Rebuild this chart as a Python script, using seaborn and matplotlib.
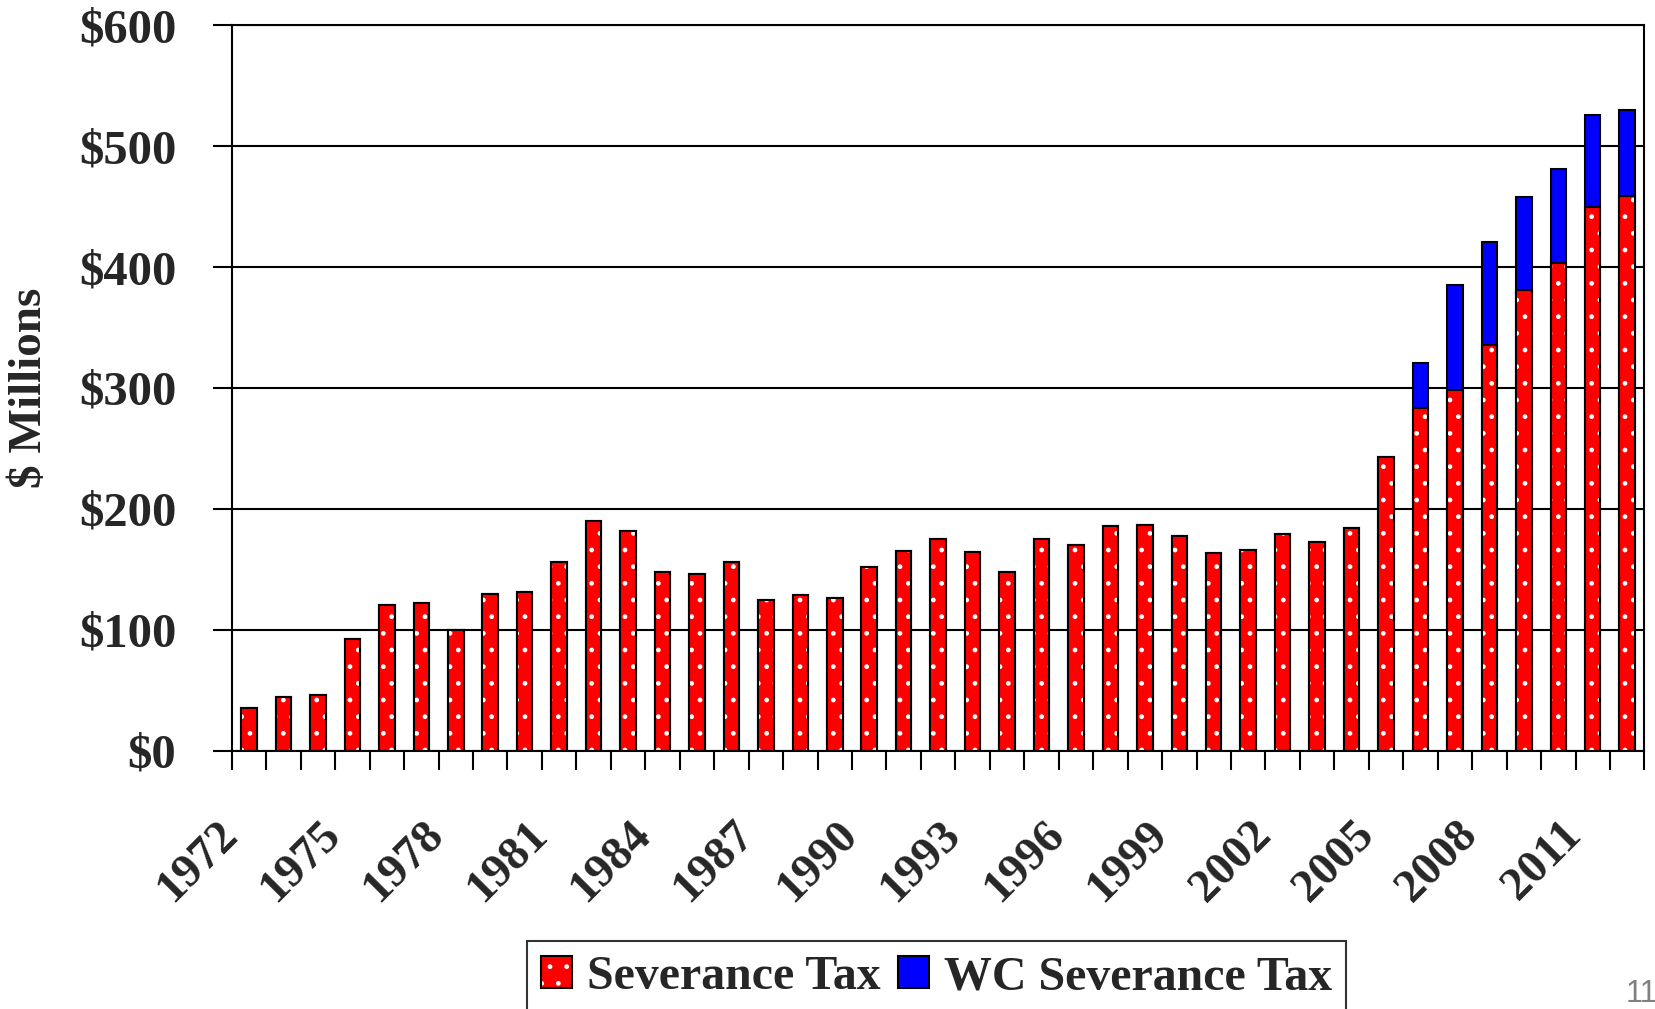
import pandas as pd
import seaborn as sns
import matplotlib.pyplot as plt
from matplotlib.patches import Patch
from matplotlib.legend_handler import HandlerTuple
from matplotlib.ticker import FixedLocator
from matplotlib.transforms import ScaledTranslation

# datos ($ millones)
years = list(range(1972, 2013))
severance = [35.5, 44, 46, 92, 120.5, 122, 100, 130, 131.5, 156,
             190, 181.5, 147.5, 146.5, 156, 124.5, 129, 126, 152, 165,
             175, 164, 147.5, 175, 170.5, 185.5, 187, 177.5, 163.5, 166,
             179.5, 173, 184, 242.5, 283.5, 298.5, 335.5, 381, 403, 449.5,
             459]
wc_severance = [0] * 34 + [37, 86.5, 85, 77, 78, 76.5, 71]
tick_years = [str(y) for y in range(1972, 2012, 3)]

df = pd.DataFrame({'year': [str(y) for y in years],
                   'sev': severance,
                   'wc': wc_severance})
df['total'] = df['sev'] + df['wc']

sns.set_style('white')
plt.rcParams['font.family'] = ['Liberation Serif', 'DejaVu Serif']
plt.rcParams['font.weight'] = 'bold'
plt.rcParams['hatch.linewidth'] = 1.0

fig, ax = plt.subplots(figsize=(16.56, 10.09), dpi=100)
fig.subplots_adjust(left=0.14, right=0.993, top=0.975, bottom=0.256)

w = 0.45
# barra total (azul) detras, luego la parte roja encima
sns.barplot(data=df, x='year', y='total', color='#0000ff', saturation=1,
            width=w, edgecolor='black', linewidth=1.5, ax=ax)
sns.barplot(data=df, x='year', y='sev', color='#ff0000', saturation=1,
            width=w, edgecolor='white', linewidth=0, hatch='.', ax=ax)
sns.barplot(data=df, x='year', y='sev', color='black', fill=False,
            width=w, linewidth=1.5, ax=ax)

ax.set_ylim(0, 600)
ax.set_yticks(range(0, 601, 100))
ax.set_yticklabels(['$' + str(v) for v in range(0, 601, 100)])
ax.yaxis.grid(True, color='black', linewidth=1.5)
ax.set_axisbelow(True)
for s in ax.spines.values():
    s.set_visible(True)
    s.set_color('black')
    s.set_linewidth(1.5)

# etiquetas cada 3 anios, marcas entre barras
pos = [years.index(int(t)) for t in tick_years]
ax.set_xticks(pos)
ax.set_xticklabels(tick_years, rotation=45, ha='right', va='center',
                   rotation_mode='anchor')
ax.xaxis.set_minor_locator(FixedLocator([i - 0.5 for i in range(len(years) + 1)]))
ax.tick_params(axis='x', which='major', length=0, pad=56, labelsize=34)
ax.tick_params(axis='x', which='minor', length=14, width=1.5, color='black',
               direction='out', bottom=True)
ax.tick_params(axis='y', length=14, width=1.5, color='black', left=True,
               direction='out', pad=26, labelsize=35)
ax.set_xlim(-0.5, len(years) - 0.5)
shift = ScaledTranslation(-0.18, 0, fig.dpi_scale_trans)
for lab in ax.get_xticklabels():
    lab.set_transform(lab.get_transform() + shift)

ax.set_xlabel('')
ax.set_ylabel('$ Millions', fontsize=34, fontweight='bold')
ax.yaxis.set_label_coords(-0.128, 0.5)

# leyenda: rojo con puntos blancos + borde negro, azul liso
red_fill = Patch(facecolor='#ff0000', edgecolor='white', hatch='.', linewidth=0)
red_edge = Patch(facecolor='none', edgecolor='black', linewidth=1.5)
blue = Patch(facecolor='#0000ff', edgecolor='black', linewidth=1.5)
leg = fig.legend([(red_fill, red_edge), blue], ['Severance Tax', 'WC Severance Tax'],
                 handler_map={tuple: HandlerTuple(ndivide=1)},
                 loc='upper center', bbox_to_anchor=(0.5655, 0.0677), ncol=2,
                 fontsize=34.5, frameon=True, fancybox=False, edgecolor='black',
                 handlelength=0.65, handleheight=0.65, handletextpad=0.3,
                 columnspacing=0.37, borderpad=0.3, borderaxespad=0)
leg.get_frame().set_linewidth(1.5)

fig.text(1626 / 1656, 1 - 1002 / 1009, '11', color='#808080', fontsize=22,
         fontweight='normal', family='Liberation Sans', va='baseline')

plt.savefig('out.png', dpi=100)
